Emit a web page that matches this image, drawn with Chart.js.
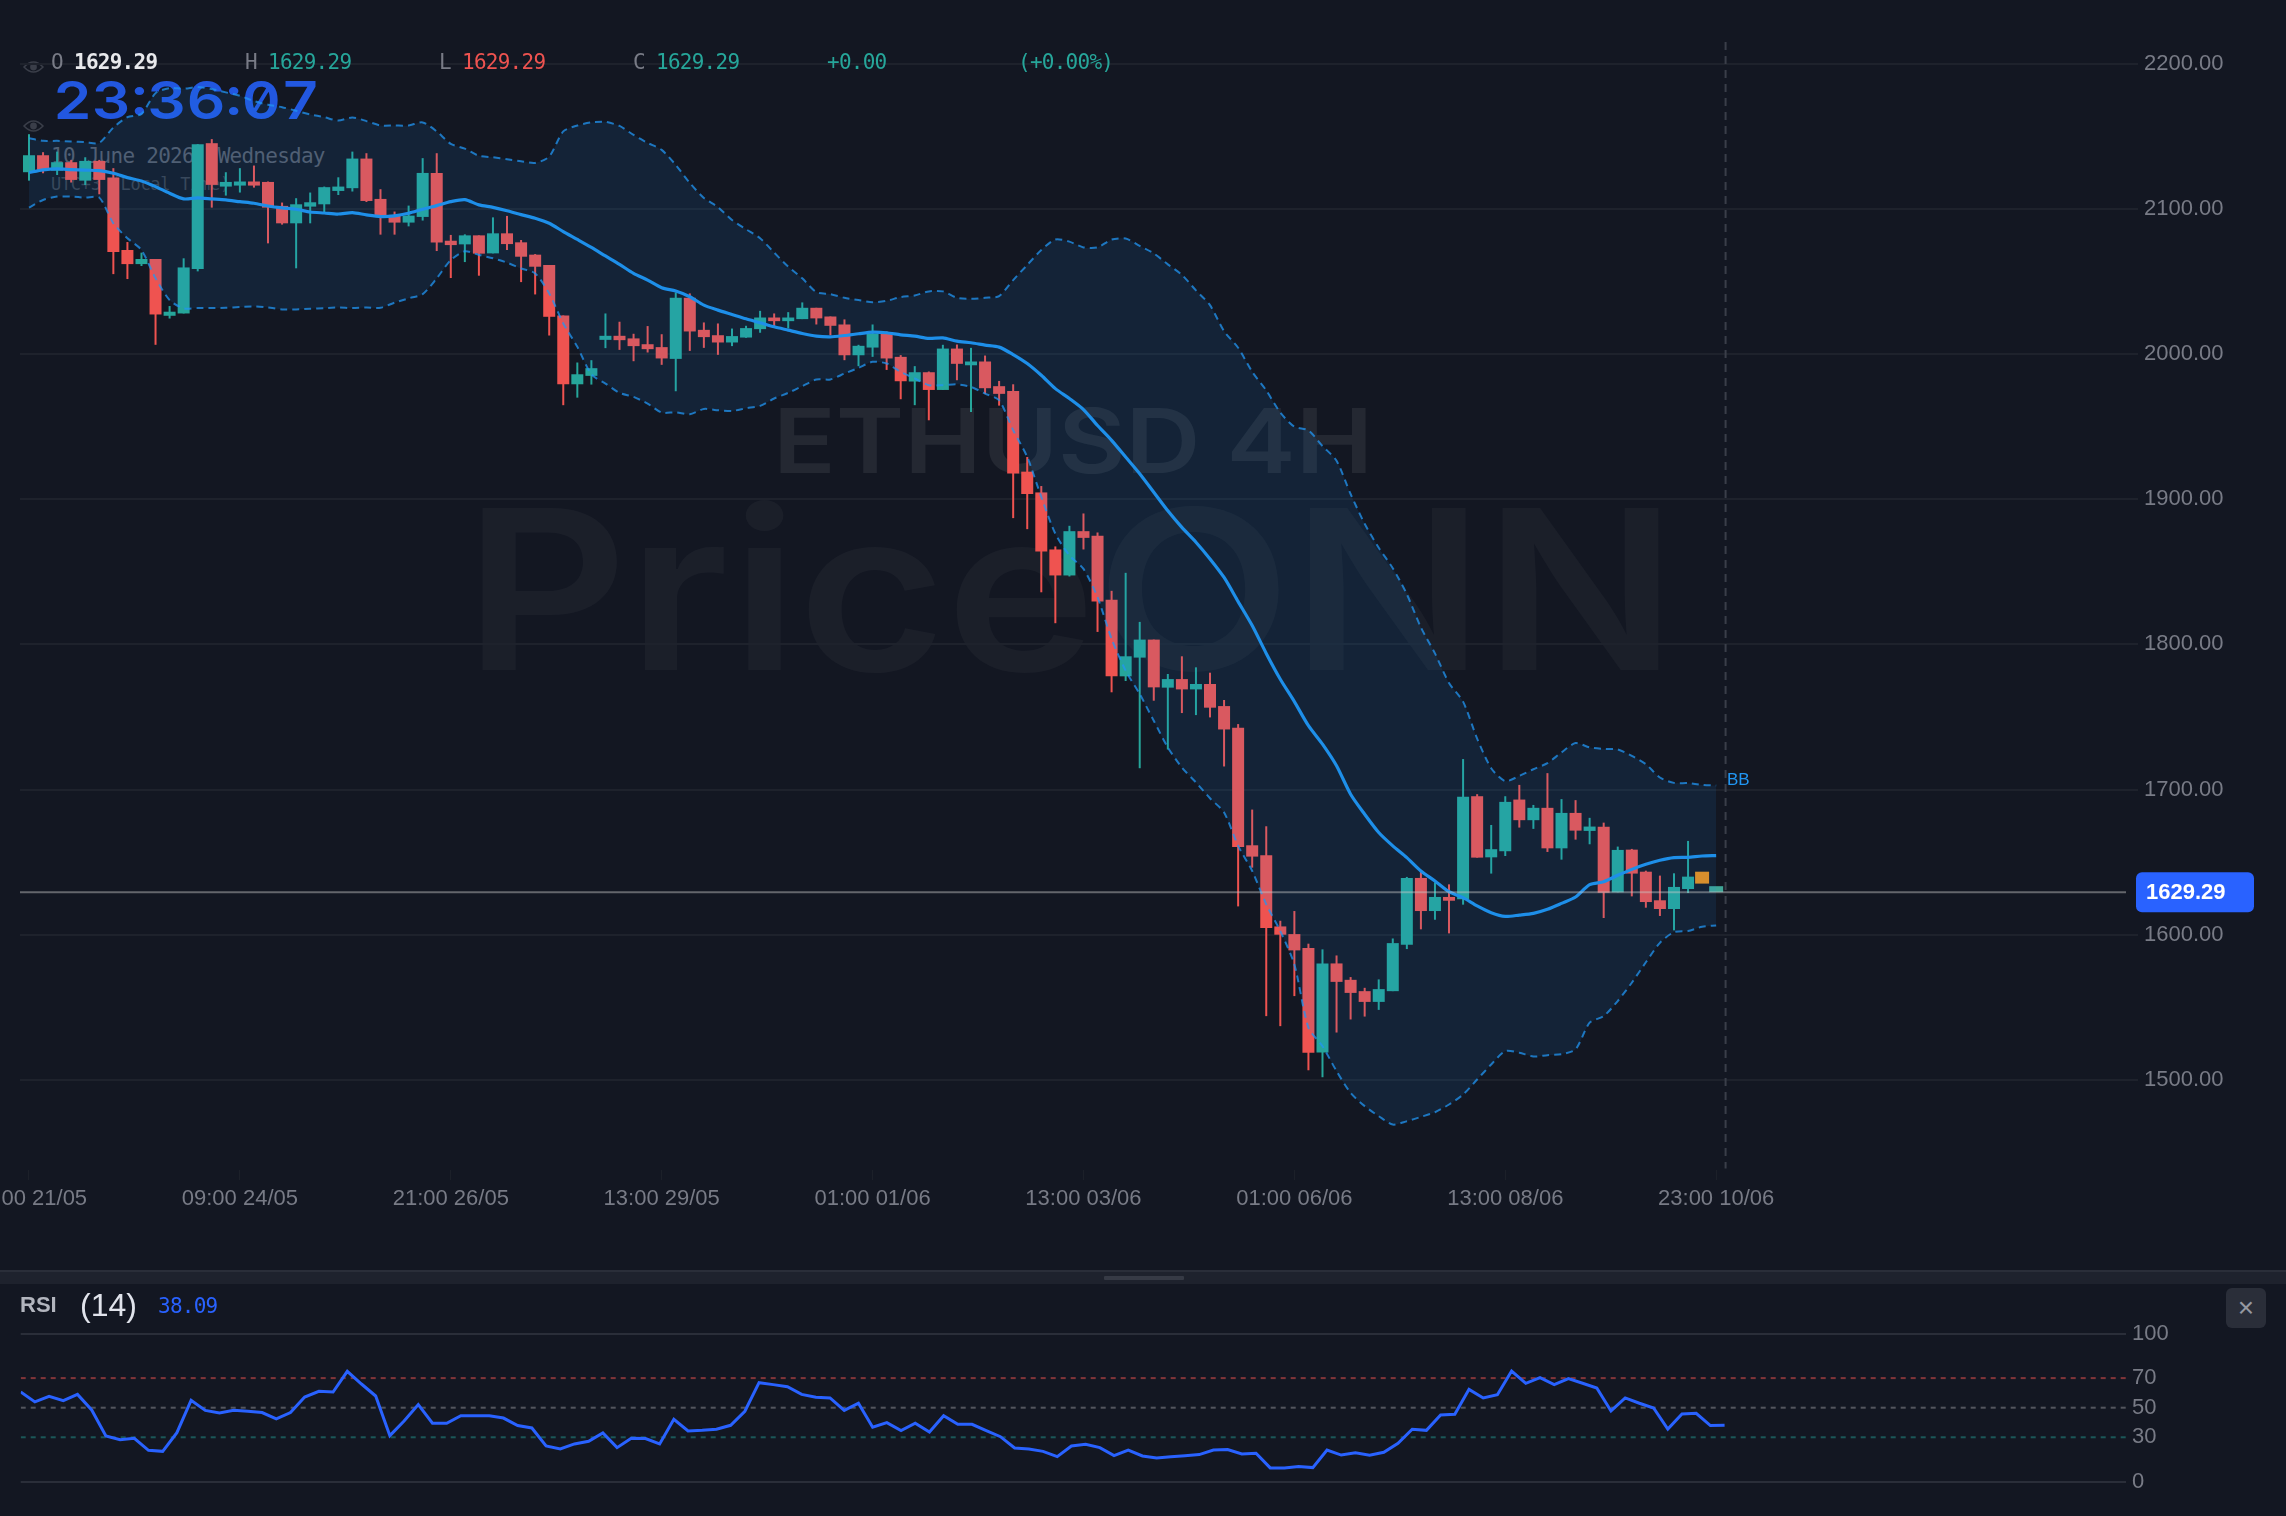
<!DOCTYPE html>
<html>
<head>
<meta charset="utf-8">
<title>ETHUSD 4H</title>
<script src="https://cdn.jsdelivr.net/npm/chart.js@4/dist/chart.umd.min.js"></script>
<style>
html, body { margin: 0; padding: 0; background: #131722; width: 2286px; height: 1516px; overflow: hidden; }
#priceCanvasBox { position: absolute; left: 0; top: 0; width: 2286px; height: 1270px; z-index: 2; }
#rsiCanvasBox { position: absolute; left: 0; top: 1284px; width: 2286px; height: 232px; z-index: 2; }
.txt { position: absolute; white-space: pre; line-height: 1; z-index: 1; }
.mono { font-family: "DejaVu Sans Mono", monospace; font-size: 21px; letter-spacing: -0.74px; }
.mark { font-family: "Inter", sans-serif; font-weight: 600; line-height: 0.76; transform-origin: left top; }
.over { z-index: 3; }
.eye { position: absolute; left: 23px; width: 21px; height: 14px; z-index: 1; }
#sep { position: absolute; left: 0; top: 1270px; width: 2286px; height: 14px; background: #1e222d; border-top: 2px solid #2a2e39; box-sizing: border-box; }
#grip { position: absolute; left: 1104px; top: 1276px; width: 80px; height: 4px; background: #363a45; border-radius: 1px; }
#closeBtn { position: absolute; left: 2226px; top: 1288px; width: 40px; height: 40px; background: #2a2e39; border-radius: 6px; color: #9598a1; font: 28px/40px "Liberation Sans", sans-serif; text-align: center; z-index: 3; }
</style>
</head>
<body>

<div class="txt mark" data-fit="600" style="left:773px; top:407px; font-size:89px; color:rgba(255,255,255,0.075)">ETHUSD 4H</div>
<div class="txt mark" data-fit="1213" style="left:464px; top:505px; font-size:223px; color:rgba(255,255,255,0.035)">PriceONN</div>
<div class="txt mark" data-fit="267" style="left:53px; top:81px; font-size:52px; color:#2257e0; font-feature-settings:'zero','tnum'">23:36:07</div>

<svg class="eye" style="top:60px" viewBox="0 0 21 14"><path d="M1 7 Q10.5 -3 20 7 Q10.5 17 1 7 Z" fill="none" stroke="#3a3e49" stroke-width="1.6"/><circle cx="10.5" cy="7" r="3.4" fill="#3a3e49"/></svg>
<svg class="eye" style="top:119px" viewBox="0 0 21 14"><path d="M1 7 Q10.5 -3 20 7 Q10.5 17 1 7 Z" fill="none" stroke="#3a3e49" stroke-width="1.6"/><circle cx="10.5" cy="7" r="3.4" fill="#3a3e49"/></svg>

<div class="txt over mono" style="left:51px; top:52px; color:#787b86">O</div>
<div class="txt over mono" style="left:74px; top:52px; color:#e8e9ec; font-weight:bold">1629.29</div>
<div class="txt over mono" style="left:245px; top:52px; color:#787b86">H</div>
<div class="txt over mono" style="left:268px; top:52px; color:#26a69a">1629.29</div>
<div class="txt over mono" style="left:439px; top:52px; color:#787b86">L</div>
<div class="txt over mono" style="left:462px; top:52px; color:#ef5350">1629.29</div>
<div class="txt over mono" style="left:633px; top:52px; color:#787b86">C</div>
<div class="txt over mono" style="left:656px; top:52px; color:#26a69a">1629.29</div>
<div class="txt over mono" style="left:827px; top:52px; color:#26a69a">+0.00</div>
<div class="txt over mono" style="left:1018px; top:52px; color:#26a69a">(+0.00%)</div>

<div class="txt mono" style="left:51px; top:146px; color:#565a66">10 June 2026, Wednesday</div>
<div class="txt mono" style="left:51px; top:176px; font-size:17px; letter-spacing:-0.3px; color:#3c404b">UTC+3 (Local Time)</div>

<div id="priceCanvasBox"><canvas id="priceChart" width="2286" height="1270"></canvas></div>
<div class="txt over" style="left:1727px; top:771px; font:17px/1 'Liberation Sans',sans-serif; color:#2196f3">BB</div>

<div id="sep"></div>
<div id="grip"></div>

<div id="rsiCanvasBox"><canvas id="rsiChart" width="2286" height="232"></canvas></div>
<div class="txt over" style="left:20px; top:1294px; font:bold 22px/1 'Liberation Sans',sans-serif; color:#b2b5be">RSI</div>
<div class="txt over" style="left:80px; top:1289px; font:32px/1 'Liberation Sans',sans-serif; color:#e0e3eb">(14)</div>
<div class="txt over mono" style="left:158px; top:1296px; color:#2962ff">38.09</div>
<div id="closeBtn">×</div>

<script>
// four hour candles, oldest first
var opens = [
    2125.3, 2137.0, 2126.4, 2132.2, 2119.5, 2133.1, 2121.6, 2071.7, 2062.0, 2065.5,
    2026.4, 2028.0, 2058.6, 2145.3, 2115.4, 2116.1, 2118.9, 2118.6, 2102.1, 2090.1,
    2101.6, 2103.2, 2112.4, 2114.3, 2134.7, 2106.9, 2095.9, 2090.6, 2094.5, 2124.8,
    2078.1, 2075.6, 2081.8, 2069.4, 2083.2, 2077.0, 2068.5, 2061.4, 2026.6, 1979.2,
    1985.0, 2009.8, 2012.6, 2010.8, 2006.8, 2004.8, 1996.7, 2038.8, 2016.7, 2013.0,
    2008.0, 2011.4, 2017.2, 2025.2, 2022.7, 2024.1, 2031.9, 2025.9, 2020.4, 1999.2,
    2004.5, 2014.2, 1998.1, 1981.1, 1987.5, 1975.3, 2003.8, 1992.3, 1994.9, 1977.9,
    1974.6, 1919.0, 1904.7, 1865.4, 1847.5, 1878.0, 1874.8, 1830.7, 1778.0, 1790.9,
    1803.3, 1770.2, 1776.1, 1769.0, 1772.7, 1757.5, 1742.6, 1661.6, 1654.7, 1605.7,
    1600.4, 1590.8, 1518.8, 1580.2, 1568.9, 1561.1, 1553.7, 1561.1, 1593.1, 1639.1,
    1616.3, 1626.0, 1624.4, 1695.4, 1653.3, 1657.5, 1693.1, 1678.9, 1687.4, 1659.5,
    1683.9, 1671.5, 1674.3, 1629.2, 1658.6, 1643.4, 1623.7, 1617.7, 1631.5, 1635.2, 1629.29
];
var highs = [
    2151.5, 2139.1, 2139.5, 2133.8, 2135.6, 2133.8, 2128.1, 2077.2, 2069.9, 2065.5,
    2033.1, 2066.0, 2144.6, 2148.1, 2125.3, 2128.1, 2129.9, 2118.9, 2104.4, 2107.4,
    2111.3, 2115.4, 2121.8, 2139.5, 2138.4, 2113.6, 2098.2, 2102.3, 2135.0, 2138.4,
    2082.1, 2082.5, 2081.8, 2094.2, 2095.2, 2078.6, 2068.9, 2061.4, 2026.6, 1994.2,
    1995.8, 2028.0, 2022.3, 2014.0, 2019.3, 2013.7, 2042.5, 2041.8, 2021.8, 2021.1,
    2017.6, 2019.5, 2029.8, 2028.0, 2028.9, 2035.6, 2031.9, 2025.9, 2023.9, 2006.4,
    2020.4, 2015.6, 1999.3, 1991.7, 1988.0, 2006.4, 2006.6, 2004.3, 1999.0, 1981.5,
    1979.2, 1929.1, 1909.1, 1867.5, 1881.7, 1890.2, 1877.1, 1836.9, 1849.3, 1815.5,
    1803.3, 1779.6, 1791.8, 1784.2, 1780.5, 1761.7, 1745.1, 1686.2, 1674.7, 1609.6,
    1616.3, 1593.8, 1589.9, 1585.7, 1570.8, 1563.4, 1569.2, 1597.4, 1639.8, 1643.9,
    1636.1, 1634.7, 1721.0, 1696.8, 1675.6, 1695.4, 1703.2, 1689.4, 1711.3, 1693.4,
    1692.7, 1680.5, 1677.2, 1660.7, 1659.1, 1644.1, 1640.7, 1642.3, 1664.6, 1643.4, 1629.29
];
var lows = [
    2119.5, 2124.6, 2123.4, 2118.2, 2116.5, 2110.1, 2055.1, 2051.7, 2060.7, 2006.4,
    2024.5, 2028.0, 2057.0, 2100.9, 2109.2, 2111.3, 2114.7, 2076.3, 2089.2, 2059.1,
    2090.1, 2097.9, 2109.6, 2112.0, 2104.8, 2082.3, 2082.3, 2088.0, 2092.0, 2071.0,
    2052.4, 2063.4, 2054.0, 2069.4, 2071.7, 2049.6, 2041.1, 2012.8, 1964.8, 1970.0,
    1979.0, 2004.1, 2002.9, 1995.1, 2001.1, 1992.6, 1974.4, 2002.2, 2004.3, 1999.5,
    2005.5, 2011.2, 2014.7, 2019.3, 2017.7, 2024.1, 2020.4, 2013.0, 1995.8, 1991.7,
    1998.1, 1989.1, 1968.9, 1964.8, 1954.4, 1975.3, 1982.0, 1960.1, 1972.6, 1964.5,
    1887.0, 1879.4, 1835.9, 1814.6, 1846.8, 1865.4, 1808.6, 1767.0, 1774.8, 1714.7,
    1761.2, 1727.6, 1752.7, 1751.3, 1749.7, 1715.9, 1619.5, 1646.2, 1543.9, 1537.0,
    1557.7, 1506.6, 1501.8, 1532.6, 1541.6, 1543.6, 1548.2, 1561.1, 1590.1, 1603.7,
    1610.3, 1600.9, 1620.7, 1653.1, 1642.1, 1654.2, 1673.8, 1672.9, 1657.0, 1651.7,
    1665.5, 1662.3, 1611.5, 1629.2, 1626.4, 1618.6, 1612.9, 1603.0, 1628.7, 1635.2, 1629.29
];
var closes = [
    2137.0, 2126.9, 2132.2, 2120.0, 2133.1, 2120.0, 2070.3, 2062.0, 2065.5, 2027.3,
    2029.2, 2059.7, 2144.6, 2116.6, 2118.6, 2118.9, 2116.1, 2100.9, 2090.1, 2103.2,
    2104.6, 2115.0, 2115.4, 2134.7, 2105.5, 2095.4, 2090.6, 2095.4, 2124.8, 2076.8,
    2075.1, 2081.8, 2069.2, 2083.2, 2075.8, 2067.1, 2060.2, 2025.7, 1979.2, 1986.1,
    1990.3, 2012.6, 2009.6, 2005.5, 2003.4, 1997.0, 2038.8, 2015.6, 2011.7, 2008.0,
    2012.4, 2017.9, 2025.2, 2022.7, 2025.2, 2031.9, 2024.6, 2019.5, 1999.2, 2005.7,
    2014.2, 1997.0, 1981.3, 1987.5, 1975.3, 2003.8, 1993.3, 1994.9, 1976.5, 1972.6,
    1917.8, 1903.6, 1864.0, 1847.5, 1878.0, 1873.4, 1829.5, 1778.0, 1791.8, 1803.3,
    1770.4, 1776.1, 1769.0, 1772.7, 1756.4, 1741.4, 1660.5, 1653.8, 1604.6, 1600.0,
    1589.2, 1518.6, 1580.2, 1567.5, 1559.9, 1553.7, 1562.5, 1594.2, 1639.1, 1616.3,
    1626.0, 1623.4, 1695.0, 1653.1, 1658.9, 1691.5, 1678.9, 1687.4, 1659.5, 1683.9,
    1671.7, 1674.5, 1628.9, 1658.4, 1642.1, 1622.5, 1617.7, 1632.9, 1640.0, 1643.4, 1629.29
];

// bollinger bands
var bbUpper = [
    2148.7, 2146.9, 2146.9, 2146.5, 2146.0, 2145.5, 2156.1, 2163.2, 2165.5, 2179.8,
    2183.3, 2182.8, 2184.0, 2182.6, 2180.3, 2178.0, 2174.3, 2171.8, 2170.1, 2167.6,
    2165.1, 2163.2, 2160.9, 2163.0, 2160.5, 2157.5, 2157.5, 2157.5, 2159.6, 2153.4,
    2144.8, 2141.6, 2136.6, 2135.6, 2134.3, 2132.9, 2131.7, 2136.1, 2153.4, 2157.5,
    2159.6, 2160.0, 2157.2, 2151.0, 2145.5, 2140.7, 2130.3, 2117.9, 2107.6, 2101.3,
    2092.4, 2086.0, 2079.8, 2069.9, 2060.2, 2052.2, 2042.7, 2041.3, 2038.8, 2037.2,
    2035.8, 2036.7, 2039.3, 2040.4, 2043.2, 2043.2, 2038.8, 2038.1, 2038.8, 2040.0,
    2051.0, 2061.4, 2071.7, 2079.0, 2077.5, 2073.5, 2073.5, 2078.9, 2079.6, 2074.5,
    2069.4, 2061.8, 2054.6, 2043.9, 2033.7, 2015.8, 2004.4, 1987.8, 1975.0, 1959.7,
    1950.0, 1947.4, 1936.7, 1926.5, 1903.6, 1883.1, 1866.6, 1852.5, 1834.6, 1811.7,
    1793.8, 1773.4, 1760.6, 1735.1, 1714.7, 1705.8, 1709.4, 1714.0, 1718.2, 1725.6,
    1732.0, 1729.0, 1728.0, 1727.6, 1723.2, 1717.5, 1708.3, 1704.6, 1704.4, 1703.2, 1702.8
];
var bbMid = [
    2125.1, 2126.9, 2127.6, 2127.1, 2126.7, 2126.4, 2124.6, 2121.6, 2119.3, 2115.4,
    2110.8, 2106.9, 2107.6, 2106.9, 2106.2, 2105.0, 2103.9, 2102.0, 2100.7, 2099.8,
    2097.9, 2097.2, 2096.5, 2097.5, 2095.9, 2094.7, 2095.2, 2097.0, 2099.8, 2102.3,
    2105.0, 2106.4, 2102.8, 2101.1, 2098.8, 2096.1, 2093.6, 2090.1, 2084.4, 2079.0,
    2073.5, 2067.6, 2061.8, 2055.6, 2051.0, 2045.7, 2043.4, 2039.5, 2033.7, 2030.3,
    2027.3, 2024.3, 2021.6, 2018.8, 2016.5, 2014.2, 2012.4, 2011.9, 2012.8, 2014.0,
    2015.1, 2014.7, 2013.3, 2012.4, 2010.8, 2011.2, 2008.9, 2007.8, 2006.2, 2004.8,
    1999.7, 1993.5, 1985.4, 1976.2, 1969.4, 1961.8, 1950.8, 1940.6, 1929.1, 1917.6,
    1904.8, 1892.0, 1880.6, 1870.4, 1858.9, 1846.1, 1829.5, 1813.0, 1793.8, 1776.0,
    1760.6, 1744.0, 1731.3, 1716.4, 1696.8, 1683.0, 1670.4, 1661.2, 1653.1, 1643.9,
    1637.0, 1629.6, 1625.5, 1619.8, 1615.2, 1612.6, 1613.5, 1614.7, 1617.5, 1621.6,
    1626.0, 1634.5, 1636.5, 1640.9, 1645.0, 1648.5, 1651.3, 1653.1, 1653.3, 1654.2, 1654.5
];
var bbLower = [
    2100.9, 2106.2, 2108.5, 2108.5, 2107.8, 2107.8, 2090.1, 2079.8, 2071.7, 2052.2,
    2037.2, 2031.5, 2031.7, 2031.7, 2031.9, 2032.4, 2032.8, 2032.1, 2030.8, 2030.8,
    2031.2, 2031.7, 2032.1, 2031.7, 2032.1, 2031.9, 2035.4, 2038.4, 2041.3, 2052.2,
    2064.8, 2070.8, 2068.3, 2066.0, 2063.0, 2059.0, 2055.6, 2041.8, 2021.1, 2005.0,
    1986.0, 1979.7, 1973.3, 1970.5, 1965.9, 1959.7, 1959.9, 1958.5, 1962.2, 1961.3,
    1960.8, 1962.7, 1964.3, 1969.4, 1973.3, 1977.9, 1982.5, 1982.5, 1986.6, 1990.5,
    1994.7, 1993.5, 1987.7, 1983.2, 1978.6, 1978.6, 1979.2, 1977.4, 1972.8, 1968.2,
    1947.5, 1929.1, 1901.5, 1876.2, 1861.3, 1852.0, 1832.5, 1803.8, 1781.9, 1765.8,
    1747.4, 1729.0, 1715.2, 1704.9, 1694.0, 1684.2, 1661.2, 1643.9, 1620.9, 1602.5,
    1579.5, 1536.0, 1523.2, 1506.0, 1491.0, 1481.9, 1475.0, 1469.2, 1471.5, 1474.5,
    1477.7, 1483.0, 1489.9, 1500.2, 1510.6, 1519.8, 1518.7, 1516.1, 1517.0, 1517.7,
    1521.0, 1539.4, 1543.9, 1554.3, 1566.9, 1581.0, 1594.4, 1601.8, 1602.5, 1605.5, 1606.4
];

var rsiValues = [
    60.6, 53.9, 57.7, 54.8, 59.0, 48.5, 30.9, 28.4, 29.3, 21.2,
    20.5, 33.1, 55.0, 48.2, 46.4, 48.2, 47.6, 46.7, 42.4, 46.7,
    57.2, 61.1, 60.6, 74.6, 66.0, 57.9, 31.1, 41.0, 52.1, 39.5,
    39.5, 44.6, 44.6, 44.6, 43.0, 37.9, 36.3, 24.1, 22.1, 25.5,
    27.3, 33.0, 23.0, 29.3, 29.1, 25.5, 42.2, 34.3, 34.7, 35.4,
    38.1, 47.6, 66.9, 65.6, 64.2, 59.0, 57.0, 56.6, 48.2, 53.0,
    36.8, 39.9, 34.5, 39.5, 33.6, 44.6, 38.8, 38.8, 34.5, 30.4,
    22.8, 22.1, 20.5, 16.9, 24.1, 25.3, 23.0, 17.6, 21.4, 17.4,
    16.0, 16.9, 17.6, 18.3, 21.4, 21.7, 18.7, 19.2, 9.3, 9.3,
    10.2, 9.5, 21.4, 18.0, 19.6, 17.8, 19.9, 26.0, 35.4, 34.7,
    45.1, 45.5, 62.4, 56.6, 58.8, 74.8, 66.5, 70.3, 65.6, 69.6,
    66.5, 63.3, 47.8, 56.6, 53.0, 49.8, 35.6, 45.8, 46.2, 37.9, 38.09
];

var timeLabels = ["21:00 21/05", "09:00 24/05", "21:00 26/05", "13:00 29/05", "01:00 01/06", "13:00 03/06", "01:00 06/06", "13:00 08/06", "23:00 10/06"];
var timeTicks = [0, 15, 30, 45, 60, 75, 90, 105, 120];
var priceTicks = [1500, 1600, 1700, 1800, 1900, 2000, 2100, 2200];
var rsiTicks = [0, 30, 50, 70, 100];
var rsiLevels = [70, 50, 30];
var lastPrice = 1629.29;
var crosshairIndex = 120.67;

var upColor = "#26a69a";
var downColor = "#ef5350";
var gridColor = "#1e222c";
var tickTextColor = "#787b86";
var axisFont = { family: "Liberation Sans", size: 22 };

// stretch the big labels out to the width they need
document.querySelectorAll("[data-fit]").forEach(function (el) {
    var w = el.getBoundingClientRect().width;
    el.style.transform = "scaleX(" + (parseFloat(el.getAttribute("data-fit")) / w) + ")";
});

function candleColor(i) {
    return closes[i] >= opens[i] ? upColor : downColor;
}

var lastClosed = 118; // the last two are the live ones, drawn wider and without wicks
var wickData = [], bodyData = [], wickColors = [], bodyColors = [];
for (var i = 0; i <= lastClosed; i++) {
    wickData.push({ x: i, y: [lows[i], highs[i]] });
    bodyData.push({ x: i, y: [opens[i], closes[i]] });
    wickColors.push(candleColor(i));
    bodyColors.push(candleColor(i));
}
var liveData = [
    { x: 119, y: [opens[119], closes[119]] },
    { x: 120, y: [opens[120], closes[120]] }
];

function toPoints(values) {
    return values.map(function (v, idx) { return { x: idx, y: v }; });
}

// price badge on the right axis
var priceBadge = {
    id: "priceBadge",
    afterDraw: function (chart) {
        var ctx = chart.ctx;
        var y = chart.scales.y.getPixelForValue(lastPrice);
        ctx.save();
        ctx.fillStyle = "#2962ff";
        ctx.beginPath();
        ctx.roundRect(2136, y - 20, 118, 40, 6);
        ctx.fill();
        ctx.fillStyle = "#ffffff";
        ctx.font = "bold 22px 'Liberation Sans'";
        ctx.textBaseline = "middle";
        ctx.textAlign = "left";
        ctx.fillText(lastPrice.toFixed(2), 2146, y + 1);
        ctx.restore();
    }
};

var priceXMin = -0.64, priceXMax = 149.15;

var priceChart = new Chart(document.getElementById("priceChart"), {
    type: "bar",
    data: {
        datasets: [
            { type: "bar", data: wickData, backgroundColor: wickColors, barThickness: 2, grouped: false, order: 7, inflateAmount: 0 },
            { type: "bar", data: bodyData, backgroundColor: bodyColors, barThickness: 12, grouped: false, order: 6, inflateAmount: 0 },
            { type: "bar", data: liveData, backgroundColor: ["#ee8f17", "#3fa596"], barThickness: 14, minBarLength: 6, grouped: false, order: 5, inflateAmount: 0 },
            { type: "line", data: toPoints(bbUpper), borderColor: "rgba(33,150,243,0.75)", borderWidth: 2, borderDash: [7, 5], tension: 0.25, pointRadius: 0, fill: "+1", backgroundColor: "rgba(33,150,243,0.1)", order: 4 },
            { type: "line", data: toPoints(bbLower), borderColor: "rgba(33,150,243,0.75)", borderWidth: 2, borderDash: [7, 5], tension: 0.25, pointRadius: 0, fill: false, order: 3 },
            { type: "line", data: toPoints(bbMid), borderColor: "#1e8fe9", borderWidth: 3.2, tension: 0.25, pointRadius: 0, fill: false, order: 2 },
            { type: "line", data: [{ x: priceXMin, y: lastPrice }, { x: priceXMax, y: lastPrice }], borderColor: "rgba(200,200,200,0.45)", borderWidth: 2, pointRadius: 0, fill: false, order: 1 },
            { type: "line", data: [{ x: crosshairIndex, y: 2215 }, { x: crosshairIndex, y: 1439 }], borderColor: "#3a3e49", borderWidth: 2, borderDash: [8, 6], pointRadius: 0, fill: false, order: 1 }
        ]
    },
    options: {
        responsive: false,
        animation: false,
        layout: { padding: { left: 20, top: 0, right: 0, bottom: 0 } },
        plugins: { legend: { display: false }, tooltip: { enabled: false } },
        scales: {
            x: {
                type: "linear",
                min: priceXMin,
                max: priceXMax,
                offset: false,
                border: { display: false },
                grid: { offset: false, drawOnChartArea: false, tickLength: 10, tickColor: "#1c2029" },
                ticks: {
                    autoSkip: false,
                    maxRotation: 0,
                    padding: 6,
                    color: tickTextColor,
                    font: axisFont,
                    callback: function (v) { return timeLabels[timeTicks.indexOf(v)]; }
                },
                afterBuildTicks: function (axis) {
                    axis.ticks = timeTicks.map(function (v) { return { value: v }; });
                },
                afterFit: function (axis) {
                    axis.height = 100;
                    axis.paddingLeft = 0;
                    axis.paddingRight = 0;
                }
            },
            y: {
                type: "linear",
                position: "right",
                min: 1437.89,
                max: 2243.95,
                beginAtZero: false,
                border: { display: false },
                grid: { color: gridColor, lineWidth: 2, tickLength: 12, tickColor: gridColor },
                ticks: {
                    autoSkip: false,
                    padding: 6,
                    color: tickTextColor,
                    font: axisFont,
                    callback: function (v) { return v.toFixed(2); }
                },
                afterBuildTicks: function (axis) {
                    axis.ticks = priceTicks.map(function (v) { return { value: v }; });
                },
                afterFit: function (axis) {
                    axis.width = 160;
                    axis.paddingTop = 0;
                    axis.paddingBottom = 0;
                }
            }
        }
    },
    plugins: [priceBadge]
});

var rsiXMin = 0, rsiXMax = 148.27;
var levelColors = ["rgba(239,83,80,0.5)", "rgba(180,180,185,0.4)", "rgba(38,166,154,0.45)"];

var rsiDatasets = rsiLevels.map(function (lv, n) {
    return {
        data: [{ x: rsiXMin, y: lv }, { x: rsiXMax, y: lv }],
        borderColor: levelColors[n],
        borderWidth: 2,
        borderDash: [5, 5],
        pointRadius: 0,
        order: 2
    };
});
rsiDatasets.push({
    data: toPoints(rsiValues),
    borderColor: "#2962ff",
    borderWidth: 3,
    pointRadius: 0,
    tension: 0,
    order: 1
});

var rsiChart = new Chart(document.getElementById("rsiChart"), {
    type: "line",
    data: { datasets: rsiDatasets },
    options: {
        responsive: false,
        animation: false,
        layout: { padding: { left: 20.7, top: 0, right: 0, bottom: 0 } },
        plugins: { legend: { display: false }, tooltip: { enabled: false } },
        scales: {
            x: {
                type: "linear",
                min: rsiXMin,
                max: rsiXMax,
                display: false
            },
            y: {
                type: "linear",
                position: "right",
                min: -23.2,
                max: 133.6,
                border: { display: false },
                grid: {
                    lineWidth: 2,
                    tickLength: 0,
                    color: function (c) {
                        return (c.tick.value === 0 || c.tick.value === 100) ? "#2a2e39" : "transparent";
                    }
                },
                ticks: {
                    autoSkip: false,
                    padding: 6,
                    color: tickTextColor,
                    font: axisFont,
                    callback: function (v) { return v; }
                },
                afterBuildTicks: function (axis) {
                    axis.ticks = rsiTicks.map(function (v) { return { value: v }; });
                },
                afterFit: function (axis) {
                    axis.width = 160;
                    axis.paddingTop = 0;
                    axis.paddingBottom = 0;
                }
            }
        }
    }
});
</script>
</body>
</html>
